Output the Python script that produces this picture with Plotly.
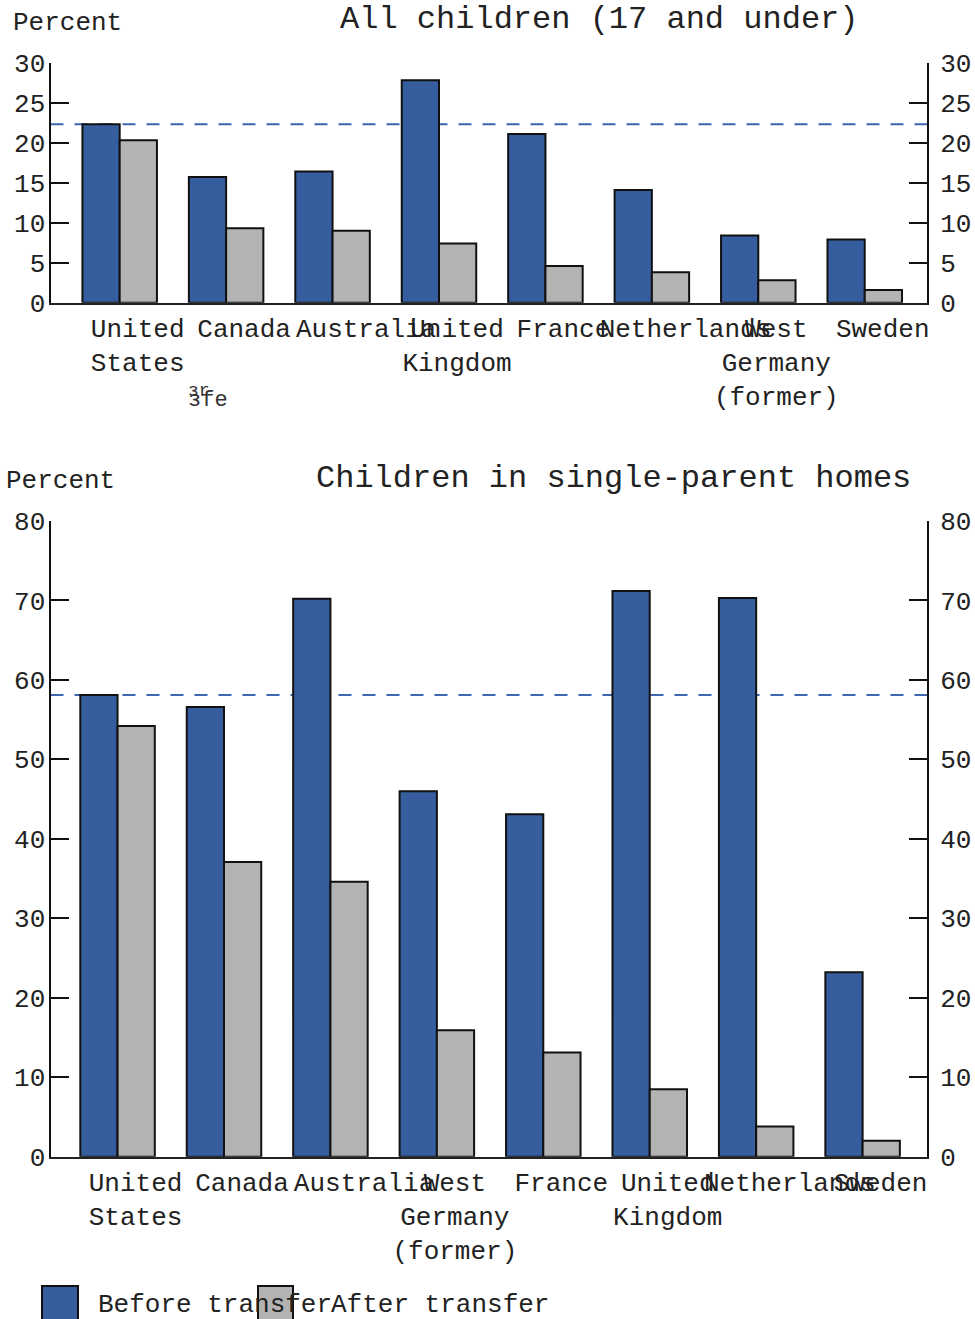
import plotly.graph_objects as go

# Child poverty rates before and after government transfers
countries_all = ["United\nStates", "Canada", "Australia", "United\nKingdom", "France",
                 "Netherlands", "West\nGermany\n(former)", "Sweden"]
before_all = [22.3, 15.7, 16.4, 27.8, 21.1, 14.1, 8.4, 7.9]
after_all = [20.3, 9.3, 9.0, 7.4, 4.6, 3.8, 2.8, 1.6]

countries_single = ["United\nStates", "Canada", "Australia", "West\nGermany\n(former)", "France",
                    "United\nKingdom", "Netherlands", "Sweden"]
before_single = [58.1, 56.6, 70.2, 46.0, 43.1, 71.2, 70.3, 23.2]
after_single = [54.2, 37.1, 34.6, 15.9, 13.1, 8.5, 3.8, 2.0]

ticks_all = [0, 5, 10, 15, 20, 25, 30]
ticks_single = [0, 10, 20, 30, 40, 50, 60, 70, 80]

title_all = "All children (17 and under)"
title_single = "Children in single-parent homes"
series_names = ["Before transfer", "After transfer"]

BLUE = "#365e9e"
GRAY = "#b3b3b3"
DASH = "#3d66b0"
INK = "#111111"
FONT = "Liberation Mono, Courier New, monospace"

W, H = 975, 1319


def px(x):
    return x / W


def py(y):
    return 1 - y / H


def label(name):
    # long single-line names sit a little further right under their group
    text = name.replace("\n", "<br>")
    if "\n" not in name and len(name) > 8:
        text = "\u00a0\u00a0" + text
    return text


fig = go.Figure()

panels = [
    (countries_all, before_all, after_all, "x", "y", "y3"),
    (countries_single, before_single, after_single, "x2", "y2", "y4"),
]
for cats, before, after, xa, ya, ya_right in panels:
    idx = list(range(len(cats)))
    fig.add_trace(go.Bar(x=idx, y=before, name=series_names[0], xaxis=xa, yaxis=ya,
                         marker=dict(color=BLUE, line=dict(color=INK, width=2)),
                         showlegend=False))
    fig.add_trace(go.Bar(x=idx, y=after, name=series_names[1], xaxis=xa, yaxis=ya,
                         marker=dict(color=GRAY, line=dict(color=INK, width=2)),
                         showlegend=False))
    # empty trace so the right-hand percent axis is laid out
    fig.add_trace(go.Scatter(x=[], y=[], xaxis=xa, yaxis=ya_right, showlegend=False,
                             hoverinfo="skip"))

xdom = [px(50.5), px(927)]
dom_top = [py(302.7), py(62.7)]
dom_bot = [py(1156.7), py(521)]

yaxis_style = dict(showline=True, linewidth=2, linecolor=INK, ticks="inside",
                   ticklen=18, tickwidth=2, tickcolor=INK, showgrid=False, zeroline=False,
                   automargin=False, tickfont=dict(family=FONT, size=26, color="#222"))
left_y = dict(ticklabelstandoff=-2, **yaxis_style)
right_y = dict(ticklabelstandoff=6, **yaxis_style)
xaxis_style = dict(showline=True, linewidth=2, linecolor="#222", ticks="", showgrid=False,
                   zeroline=False, automargin=False, tickangle=0,
                   tickfont=dict(family=FONT, size=26, color="#222"),
                   ticklabelshift=18, ticklabelstandoff=1)

fig.update_layout(
    width=W, height=H, margin=dict(l=0, r=0, t=0, b=0, autoexpand=False),
    paper_bgcolor="white", plot_bgcolor="white",
    barmode="group", bargap=0.3, bargroupgap=0,
    xaxis=dict(domain=xdom, anchor="y", range=[-0.65, 7.585],
               tickvals=list(range(len(countries_all))),
               ticktext=[label(c) for c in countries_all], **xaxis_style),
    yaxis=dict(domain=dom_top, anchor="x", range=[0, 30], tickvals=ticks_all, **left_y),
    yaxis3=dict(overlaying="y", side="right", anchor="x", range=[0, 30], tickvals=ticks_all,
                **right_y),
    xaxis2=dict(domain=xdom, anchor="y2", range=[-0.63, 7.605],
                tickvals=list(range(len(countries_single))),
                ticktext=[label(c) for c in countries_single], **xaxis_style),
    yaxis2=dict(domain=dom_bot, anchor="x2", range=[0, 80], tickvals=ticks_single, **left_y),
    yaxis4=dict(overlaying="y2", side="right", anchor="x2", range=[0, 80],
                tickvals=ticks_single, **right_y),
)

# reference level: the United States before-transfer rate
for ya, xa, level in [("y", "x", before_all[0]), ("y2", "x2", before_single[0])]:
    fig.add_shape(type="line", xref=f"{xa} domain", yref=ya, x0=0, x1=1, y0=level, y1=level,
                  line=dict(color=DASH, width=2, dash="13px,11px"), layer="below")

text_font = dict(family=FONT, size=26, color="#222")
title_font = dict(family=FONT, size=32, color="#222")

annos = [
    dict(text="Percent", x=px(11), y=py(23), xanchor="left", yanchor="middle", font=text_font),
    dict(text=title_all, x=px(599), y=py(19), xanchor="center", yanchor="middle", font=title_font),
    dict(text="Percent", x=px(4), y=py(481), xanchor="left", yanchor="middle", font=text_font),
    dict(text=title_single, x=px(613), y=py(478), xanchor="center", yanchor="middle",
         font=title_font),
    dict(text="\u025cr", x=px(186), y=py(391), xanchor="left", yanchor="middle",
         font=dict(family=FONT, size=18, color="#333")),
    dict(text="\u025cfe", x=px(186), y=py(400), xanchor="left", yanchor="middle",
         font=dict(family=FONT, size=22, color="#333")),
    dict(text=series_names[0], x=px(96), y=py(1305), xanchor="left", yanchor="middle",
         font=text_font),
    dict(text=series_names[1], x=px(329), y=py(1305), xanchor="left", yanchor="middle",
         font=text_font),
]
for a in annos:
    fig.add_annotation(xref="paper", yref="paper", showarrow=False, **a)

# legend swatches
for x0, x1, color in [(42, 78, BLUE), (258, 293, GRAY)]:
    fig.add_shape(type="rect", xref="paper", yref="paper", x0=px(x0), x1=px(x1),
                  y0=py(1322), y1=py(1286), fillcolor=color, line=dict(color=INK, width=2))

fig.write_html("out.html")
